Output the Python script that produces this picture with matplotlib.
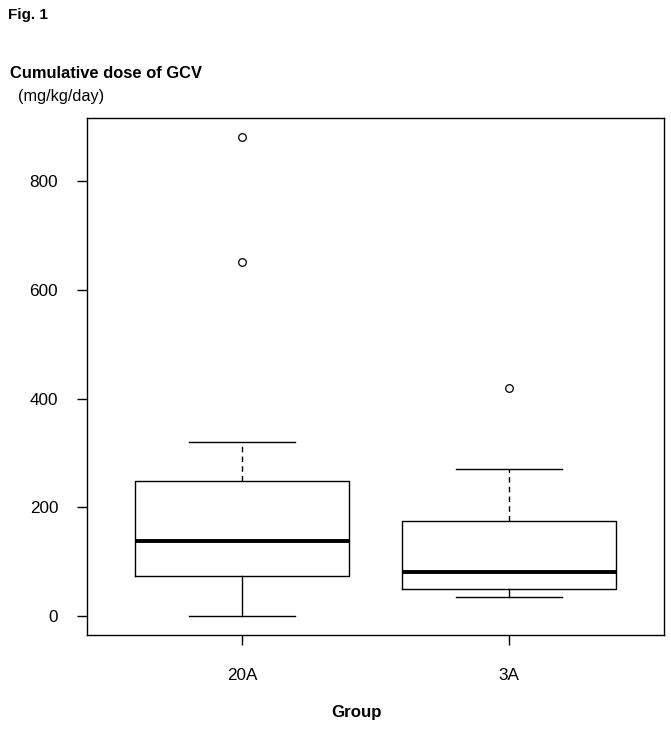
import matplotlib.pyplot as plt

plt.rcParams['font.family'] = ['Liberation Sans', 'DejaVu Sans']

# values
groups = ['20A', '3A']
whislo = [0, 34]
q1 = [73, 50]
med = [138, 80]
q3 = [248, 174]
whishi = [320, 270]
fliers = [[651, 881], [420]]
yticks = [0, 200, 400, 600, 800]

stats = []
for i in range(len(groups)):
    stats.append(dict(label=groups[i], whislo=whislo[i], q1=q1[i], med=med[i],
                      q3=q3[i], whishi=whishi[i], fliers=fliers[i]))

fig = plt.figure(figsize=(6.71, 7.29), dpi=100)
ax = fig.add_axes([87/671, 1-635/729, (664-87)/671, (635-118)/729])

bp = ax.bxp(stats, positions=[1, 2], widths=0.8, showfliers=True,
            boxprops=dict(color='black', linewidth=1.0),
            medianprops=dict(color='black', linewidth=2.8),
            whiskerprops=dict(color='black', linewidth=1.0),
            capprops=dict(color='black', linewidth=1.0),
            capwidths=0.4,
            flierprops=dict(marker='o', markerfacecolor='none',
                            markeredgecolor='black', markersize=5.5, markeredgewidth=0.9))
# upper whiskers dashed
for k, w in enumerate(bp['whiskers']):
    if k % 2 == 1:
        w.set_linestyle((0, (4, 3)))

ax.set_xlim(0.42, 2.58)
ax.set_ylim(-35.2, 916.4)
ax.set_yticks(yticks)
ax.set_xticks([1, 2])
ax.set_xticklabels(groups)
ax.tick_params(axis='both', direction='out', length=7.2, width=1.0, labelsize=12.3)
ax.tick_params(axis='y', pad=13.5)
ax.tick_params(axis='x', pad=16.5)
for s in ax.spines.values():
    s.set_linewidth(1.0)

fig.text(8/671, 1-15/729, 'Fig. 1', fontsize=11, fontweight='bold', va='center', ha='left')
fig.text(10/671, 1-73/729, 'Cumulative dose of GCV', fontsize=11.9, fontweight='bold', va='center', ha='left')
fig.text(18/671, 1-97/729, '(mg/kg/day)', fontsize=11.7, va='center', ha='left')
fig.text(356/671, 1-713/729, 'Group', fontsize=12.2, fontweight='bold', va='center', ha='center')

fig.savefig('out.png', dpi=100)
